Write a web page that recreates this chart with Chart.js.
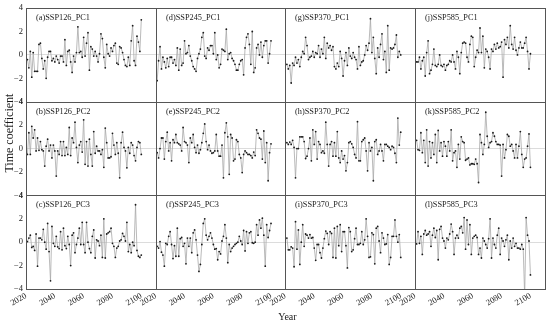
<!DOCTYPE html>
<html><head><meta charset="utf-8">
<script src="https://cdn.jsdelivr.net/npm/chart.js@4.4.1/dist/chart.umd.min.js"></script>
<style>html,body{margin:0;padding:0;background:#fff}#wrap{width:550px;height:324px}</style>
</head><body><div id="wrap"><canvas id="c" width="550" height="324"></canvas></div>
<script>
const years = [];
for (let y = 2021; y <= 2100; y++) years.push(y);
const scenarios = ['SSP126', 'SSP245', 'SSP370', 'SSP585'];
const components = ['PC1', 'PC2', 'PC3'];
const panelLetters = [['a','b','c'], ['d','e','f'], ['g','h','i'], ['j','k','l']];
const xTicks = [2020, 2040, 2060, 2080, 2100];
const yTicks = [-4, -2, 0, 2, 4];

const ssp126_pc1 = [-0.4,-1.1,0.3,-1.9,0.2,-1.4,-1.4,-1.4,0.9,1.0,
 -0.3,-1.2,-0.5,-2.0,-0.2,0.3,0.3,-0.5,-0.3,-0.6,
 -0.1,-0.4,-0.7,-0.1,-0.1,-0.6,1.3,-0.9,0.3,0.4,
 -0.6,-1.5,-0.1,-0.6,0.2,2.4,0.2,0.3,-0.2,1.5,
 -0.1,1.0,1.9,-1.3,0.7,0.5,-0.1,0.3,-0.1,-0.6,
 0.1,1.8,1.4,-0.2,-1.1,0.9,0.1,-0.1,0.6,0.3,
 0.8,1.0,-0.7,-0.8,0.7,0.6,0.2,-0.4,-0.9,-1.0,
 -0.2,-0.9,1.2,2.5,-0.5,-0.9,1.6,1.1,0.3,3.0];
const ssp126_pc2 = [-0.5,1.35,-0.5,1.9,0.9,1.6,-0.2,0.9,-0.15,0.6,
 -0.1,-0.2,-1.5,0.2,0.8,-0.2,0.3,-0.8,0.3,-0.2,
 -2.35,-0.2,-0.5,0.6,-0.6,0.6,-0.6,0.1,-0.5,1.8,
 -0.6,0.9,0.5,2.25,0.1,-1.2,0.3,0.6,-0.3,2.45,
 -1.35,0.6,-1.5,0.8,-0.5,-1.5,1.45,-0.4,0.2,-0.2,
 -0.2,-0.5,-0.1,-1.6,1.75,0.5,-0.8,-0.8,-0.7,1.3,
 0.3,-0.5,0.5,-0.4,-2.5,0.5,1.4,0.1,-0.2,-1.65,
 0.1,-0.4,0.5,0.3,-0.6,-1.05,0.1,0.6,0.5,-0.5];
const ssp126_pc3 = [0.05,0.35,0.6,-0.45,-0.35,-0.7,0.7,-2.05,0.35,0.35,
 0.2,1.1,0.0,-0.6,1.6,-0.8,-3.3,1.35,-0.1,-0.35,
 0.5,-0.4,-0.55,0.9,-0.65,1.2,-0.3,-0.55,0.5,-0.2,
 -2.0,0.6,0.8,-0.9,-0.2,0.35,1.2,-0.2,1.7,-0.2,
 -0.9,1.7,0.0,-0.55,-0.9,0.5,1.05,-1.35,0.2,0.1,
 -0.3,0.6,-1.3,2.0,-1.35,0.7,0.8,0.9,1.2,-0.1,
 -0.35,-1.3,-0.5,-0.35,0.1,0.2,0.75,0.5,0.1,1.7,
 -0.8,-0.2,-0.9,0.0,-0.3,3.2,-0.7,-1.2,-1.3,-1.1];
const ssp245_pc1 = [-2.2,-0.5,0.7,-1.2,-0.2,-0.6,-1.1,-0.3,-1.0,-0.2,
 -0.2,-0.7,-0.4,-0.9,0.6,-1.3,0.5,-0.9,-0.7,1.2,
 0.1,0.2,0.8,-0.1,-0.5,-1.0,-1.2,-1.4,-0.3,0.1,
 0.5,1.5,1.9,-0.1,-0.3,0.6,0.4,0.8,0.8,0.1,
 1.9,-0.4,0.0,-1.1,-0.8,0.5,0.4,0.3,2.2,-0.4,
 0.1,0.2,-0.3,-0.5,-0.8,-1.3,-1.3,-0.8,-0.5,-0.4,
 -1.7,0.6,1.5,1.8,0.9,-0.8,2.0,-1.5,-1.1,0.6,
 0.9,0.0,1.1,-0.2,0.8,1.2,1.2,-0.7,0.1,1.2];
const ssp245_pc2 = [-0.35,-0.8,0.0,0.9,0.9,-0.9,0.6,1.4,-0.2,0.5,
 -1.05,0.75,0.5,1.2,0.5,0.4,0.3,-0.2,1.8,0.6,
 0.5,0.3,-1.2,0.9,0.5,1.2,0.1,-0.35,0.3,-0.4,
 -0.1,0.5,1.3,2.1,0.6,-0.1,0.3,-0.2,-0.4,-0.35,
 -0.2,1.2,-0.2,-0.65,-0.65,0.3,-2.5,1.35,2.2,1.0,
 -2.2,1.2,0.9,-1.05,-0.9,0.75,0.6,-0.5,-0.8,-2.05,
 -0.5,-0.2,-0.35,-0.5,-0.5,-0.6,-0.8,-0.3,-0.6,1.6,
 1.3,0.9,0.8,-0.9,1.5,-1.2,0.5,-2.75,-0.35,0.4];
const ssp245_pc3 = [-0.35,-0.5,0.05,-0.85,-1.1,-2.05,-0.1,-0.2,0.5,0.9,
 -0.2,-1.4,-0.3,-1.2,1.2,-1.2,0.3,0.4,-0.35,-0.1,
 -1.85,0.35,-0.35,0.35,-0.9,0.8,1.05,0.2,-1.1,-2.5,
 -1.9,-0.2,1.6,2.0,0.6,0.2,0.5,0.8,0.35,-0.2,
 -0.6,-0.55,-1.5,-0.8,-1.0,0.1,0.5,1.5,0.35,-1.75,
 -0.2,-0.8,-0.5,-0.35,-0.2,-0.1,0.0,0.5,0.1,-0.2,
 1.0,-0.75,0.9,-0.1,0.8,0.9,-0.05,-0.1,0.0,1.5,
 0.6,1.9,1.2,2.05,0.6,-2.05,1.5,0.4,1.0,1.6];
const ssp370_pc1 = [-0.8,-1.2,-0.9,-2.4,-0.7,-0.9,-0.2,-0.7,-0.4,-1.0,
 -0.2,0.3,0.1,1.5,0.8,-0.4,-0.2,-0.1,0.3,-0.2,
 0.2,0.1,0.8,-0.2,0.5,0.1,1.5,-0.3,1.0,0.6,
 0.8,0.4,0.7,-1.0,-1.2,-0.7,-1.0,0.3,-0.3,-1.8,
 -0.5,0.2,-0.9,0.6,-0.1,-0.3,0.2,-0.2,-0.4,-1.2,
 0.7,-0.9,-0.6,-0.5,0.0,0.8,0.4,1.0,3.1,0.2,
 1.5,-0.3,-1.6,0.6,-0.2,0.9,1.8,-0.4,0.3,-1.5,
 2.5,-1.3,0.6,0.5,0.6,0.9,1.7,-0.2,0.3,0.0];
const ssp370_pc2 = [0.5,0.35,0.55,0.35,0.7,0.1,-2.5,0.0,0.0,1.0,
 1.0,1.0,0.6,-0.85,-0.65,0.0,0.9,-1.05,1.6,0.35,
 1.45,-0.9,0.6,0.35,-0.35,-0.2,-0.4,2.25,0.35,-1.5,
 0.35,0.6,-0.65,0.5,-0.65,1.45,-0.8,-1.2,-0.2,-0.9,
 -0.6,-1.9,-1.2,0.5,0.6,0.4,0.1,-0.5,-0.8,2.3,
 -1.05,-1.05,0.6,0.75,0.9,-0.2,-1.9,0.5,-0.2,0.1,
 -2.75,0.6,0.75,-0.5,-0.2,0.35,-0.2,-1.05,0.35,0.35,
 0.2,0.1,-0.1,0.2,0.1,-0.4,-1.2,2.6,0.3,1.4];
const ssp370_pc3 = [0.35,-0.65,-0.65,-0.4,-0.5,-2.1,1.75,-0.6,1.05,-1.9,
 0.0,1.5,-0.35,0.7,0.6,0.35,0.65,0.35,0.4,-0.5,
 -1.55,-0.2,-0.2,-0.9,-1.35,-0.5,0.3,0.95,0.75,-0.2,
 0.9,0.75,-1.3,1.2,-1.35,1.35,-0.3,1.5,-0.8,0.9,
 0.9,-0.3,-2.2,1.25,0.9,-0.8,-0.65,0.3,1.2,-0.2,
 -0.2,-0.1,0.9,-0.2,0.2,2.0,0.5,-1.3,-1.25,0.8,
 0.65,-1.85,1.2,1.35,0.1,-0.9,0.8,0.35,-0.2,-0.15,
 0.65,-1.9,-1.3,0.5,0.5,1.9,0.5,0.0,0.65,-1.3];
const ssp585_pc1 = [-0.6,-0.6,-0.2,-1.2,-0.5,-0.2,-1.8,0.2,1.2,-1.6,
 -1.3,-0.8,0.5,-0.9,-1.0,-0.8,0.0,-0.9,-1.0,-0.8,
 -1.3,-0.9,-0.8,-0.5,-0.6,0.0,-0.6,-1.2,0.3,-0.2,
 -1.6,0.2,1.0,1.1,1.0,-0.2,-0.6,0.9,1.6,1.5,
 -1.0,-0.2,0.4,0.2,2.3,0.2,1.6,-1.1,0.5,0.3,
 -0.2,-1.2,0.5,0.3,0.9,0.5,1.0,0.6,0.7,1.1,
 -1.9,1.3,0.9,1.5,0.6,2.5,0.9,0.5,1.5,0.4,
 0.0,0.6,1.1,0.6,0.6,1.0,1.5,0.3,-1.2,0.1];
const ssp585_pc2 = [0.7,-0.1,-0.15,1.35,-0.35,0.7,-1.2,1.6,-1.5,0.6,
 -0.8,0.5,-0.5,1.2,-1.2,1.55,-0.2,0.5,-0.65,0.6,
 0.2,-0.65,0.6,-0.2,1.6,-1.05,-0.35,-0.2,-1.6,0.35,
 -0.9,1.0,0.6,0.5,-1.0,-0.9,-0.8,-1.4,-1.3,-1.3,
 -1.35,-0.9,-1.3,-2.9,1.2,0.5,-0.5,0.35,3.1,1.05,
 0.1,0.5,0.6,1.35,1.05,0.6,0.35,0.35,0.3,-2.35,
 0.35,-0.8,-0.1,1.2,1.05,0.2,0.35,-0.2,-0.8,0.35,
 -0.8,0.2,1.45,-0.5,-1.6,-0.9,-0.8,0.2,1.25,-1.6];
const ssp585_pc3 = [-0.15,0.9,-0.1,0.5,-1.05,0.7,1.0,0.6,0.7,0.9,
 -0.35,0.6,1.2,0.4,1.0,-1.5,1.1,1.35,0.35,0.1,
 -0.5,0.35,0.2,0.7,1.55,0.9,-1.05,0.35,0.6,0.35,
 1.2,1.35,0.8,2.1,-0.6,1.9,-0.2,1.5,-1.05,0.35,
 0.5,0.6,0.4,-1.05,-0.5,-1.35,0.35,0.1,-0.2,-0.5,
 0.3,2.0,-1.35,0.35,-0.2,-0.5,0.6,1.2,-1.05,0.35,
 0.1,-0.35,0.2,0.6,-1.5,0.1,-0.5,0.35,-0.35,-0.1,
 -0.5,-0.5,-0.6,-0.2,-0.6,-4.6,2.1,0.6,0.1,-2.8];

const seriesGrid = [
  [ssp126_pc1, ssp126_pc2, ssp126_pc3],
  [ssp245_pc1, ssp245_pc2, ssp245_pc3],
  [ssp370_pc1, ssp370_pc2, ssp370_pc3],
  [ssp585_pc1, ssp585_pc2, ssp585_pc3]
];
seriesGrid.forEach((col, c) => col.forEach((s, r) => {
  if (s.length !== years.length) throw new Error('length mismatch ' + scenarios[c] + components[r] + ' ' + s.length);
}));

const FONT = '"Liberation Serif", "Times New Roman", serif';
const datasets = [];
seriesGrid.forEach((col, c) => col.forEach((s, r) => {
  datasets.push({
    label: scenarios[c] + '_' + components[r],
    data: years.map((yr, i) => ({x: yr, y: s[i]})),
    xAxisID: 'x' + c, yAxisID: 'y' + r,
    borderColor: '#a8a8a8', borderWidth: 0.8,
    pointRadius: 0.9, pointBackgroundColor: '#1a1a1a', pointBorderWidth: 0,
    tension: 0, fill: false
  });
}));

const scales = {};
scenarios.forEach((s, c) => {
  scales['x' + c] = {
    type: 'linear', position: 'bottom', stack: 'cols', weight: c,
    min: 2020, max: 2110,
    afterBuildTicks: sc => { sc.ticks = xTicks.map(v => ({value: v})); },
    afterFit: sc => { sc.height = 35; },
    ticks: { autoSkip: false, maxRotation: 30, minRotation: 30, padding: 2, color: '#222',
             font: {family: FONT, size: 8.5}, callback: v => String(v) },
    grid: { display: false, drawTicks: false },
    border: { display: false }
  };
});
components.forEach((p, r) => {
  scales['y' + r] = {
    type: 'linear', position: 'left', stack: 'rows', weight: 10 - r,
    min: -4, max: 4,
    afterBuildTicks: sc => { sc.ticks = yTicks.map(v => ({value: v})); },
    afterFit: sc => { sc.width = 26; },
    ticks: { autoSkip: false, padding: 3, color: '#222', font: {family: FONT, size: 8.5},
             callback: v => v < 0 ? '\u2212' + Math.abs(v) : String(v) },
    grid: { drawTicks: false, color: ctx => (ctx.tick && ctx.tick.value === 0) ? '#dcdcdc' : 'rgba(0,0,0,0)', lineWidth: 1 },
    border: { display: false }
  };
});

const panelDecor = {
  id: 'panelDecor',
  afterDatasetsDraw(chart) {
    const ctx = chart.ctx;
    ctx.save();
    ctx.strokeStyle = '#555';
    ctx.lineWidth = 1;
    ctx.font = '8.3px ' + FONT;
    ctx.fillStyle = '#1a1a1a';
    ctx.textBaseline = 'middle';
    ctx.textAlign = 'left';
    scenarios.forEach((s, c) => components.forEach((p, r) => {
      const xs = chart.scales['x' + c], ys = chart.scales['y' + r];
      const l = Math.round(xs.left), t = Math.round(ys.top);
      const w = Math.round(xs.right) - l, h = Math.round(ys.bottom) - t;
      ctx.strokeRect(l + 0.5, t + 0.5, w, h);
      ctx.fillText('(' + panelLetters[c][r] + ')' + s + '_' + p, l + 10, t + 10);
    }));
    ctx.restore();
  },
  afterDraw(chart) {
    const ctx = chart.ctx, a = chart.chartArea;
    ctx.save();
    ctx.fillStyle = '#1a1a1a';
    ctx.textAlign = 'center';
    ctx.textBaseline = 'middle';
    ctx.font = '10px ' + FONT;
    ctx.fillText('Year', (a.left + a.right) / 2 + 2, a.bottom + 28);
    ctx.translate(10, a.top + 125);
    ctx.rotate(-Math.PI / 2);
    ctx.font = '12px ' + FONT;
    ctx.fillText('Time coefficient', 0, 0);
    ctx.restore();
  }
};

new Chart(document.getElementById('c'), {
  type: 'line',
  data: { datasets },
  options: {
    responsive: false, animation: false, events: [],
    layout: { padding: { top: 5, right: 5, left: 0, bottom: 0 } },
    scales,
    plugins: { legend: { display: false }, tooltip: { enabled: false } }
  },
  plugins: [panelDecor]
});
</script></body></html>
